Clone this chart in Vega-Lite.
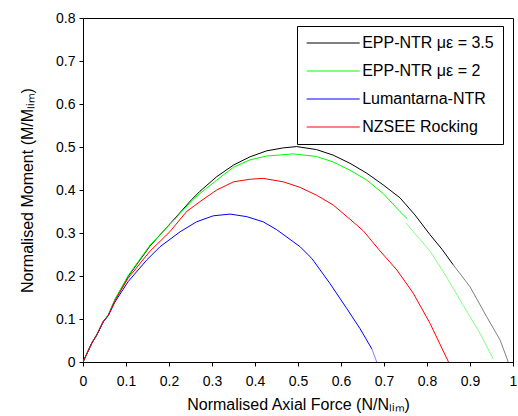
{
  "$schema": "https://vega.github.io/schema/vega-lite/v6.json",
  "width": 430,
  "height": 344,
  "autosize": {"type": "none"},
  "padding": {"left": 83, "top": 18, "right": 5, "bottom": 54},
  "background": "white",
  "config": {
    "font": "Liberation Sans",
    "view": {"stroke": "black", "strokeWidth": 1},
    "axis": {
      "grid": false,
      "domainColor": "black",
      "tickColor": "black",
      "tickSize": 4,
      "labelColor": "black",
      "labelFontSize": 14,
      "labelFont": "Liberation Sans",
      "labelFlush": false,
      "titleColor": "black",
      "titleFontSize": 16,
      "titleFont": "Liberation Sans",
      "titleFontWeight": "normal",
      "format": "~g"
    }
  },
  "datasets": {
    "main": [
      {"s": "EPP-NTR με = 3.5", "x": 0, "y": 0},
      {"s": "EPP-NTR με = 3.5", "x": 0.02, "y": 0.043},
      {"s": "EPP-NTR με = 3.5", "x": 0.032, "y": 0.063},
      {"s": "EPP-NTR με = 3.5", "x": 0.047, "y": 0.094},
      {"s": "EPP-NTR με = 3.5", "x": 0.059, "y": 0.109},
      {"s": "EPP-NTR με = 3.5", "x": 0.074, "y": 0.144},
      {"s": "EPP-NTR με = 3.5", "x": 0.105, "y": 0.199},
      {"s": "EPP-NTR με = 3.5", "x": 0.156, "y": 0.27},
      {"s": "EPP-NTR με = 3.5", "x": 0.202, "y": 0.321},
      {"s": "EPP-NTR με = 3.5", "x": 0.253, "y": 0.378},
      {"s": "EPP-NTR με = 3.5", "x": 0.272, "y": 0.397},
      {"s": "EPP-NTR με = 3.5", "x": 0.311, "y": 0.431},
      {"s": "EPP-NTR με = 3.5", "x": 0.35, "y": 0.458},
      {"s": "EPP-NTR με = 3.5", "x": 0.388, "y": 0.477},
      {"s": "EPP-NTR με = 3.5", "x": 0.427, "y": 0.491},
      {"s": "EPP-NTR με = 3.5", "x": 0.466, "y": 0.498},
      {"s": "EPP-NTR με = 3.5", "x": 0.497, "y": 0.501},
      {"s": "EPP-NTR με = 3.5", "x": 0.543, "y": 0.494},
      {"s": "EPP-NTR με = 3.5", "x": 0.582, "y": 0.481},
      {"s": "EPP-NTR με = 3.5", "x": 0.621, "y": 0.462},
      {"s": "EPP-NTR με = 3.5", "x": 0.66, "y": 0.439},
      {"s": "EPP-NTR με = 3.5", "x": 0.698, "y": 0.412},
      {"s": "EPP-NTR με = 3.5", "x": 0.737, "y": 0.382},
      {"s": "EPP-NTR με = 3.5", "x": 0.772, "y": 0.342},
      {"s": "EPP-NTR με = 3.5", "x": 0.807, "y": 0.296},
      {"s": "EPP-NTR με = 3.5", "x": 0.835, "y": 0.262},
      {"s": "EPP-NTR με = 3.5", "x": 0.861, "y": 0.226},
      {"s": "EPP-NTR με = 2", "x": 0, "y": 0},
      {"s": "EPP-NTR με = 2", "x": 0.02, "y": 0.043},
      {"s": "EPP-NTR με = 2", "x": 0.032, "y": 0.063},
      {"s": "EPP-NTR με = 2", "x": 0.047, "y": 0.094},
      {"s": "EPP-NTR με = 2", "x": 0.059, "y": 0.11},
      {"s": "EPP-NTR με = 2", "x": 0.074, "y": 0.145},
      {"s": "EPP-NTR με = 2", "x": 0.105, "y": 0.201},
      {"s": "EPP-NTR με = 2", "x": 0.156, "y": 0.272},
      {"s": "EPP-NTR με = 2", "x": 0.202, "y": 0.32},
      {"s": "EPP-NTR με = 2", "x": 0.253, "y": 0.375},
      {"s": "EPP-NTR με = 2", "x": 0.272, "y": 0.392},
      {"s": "EPP-NTR με = 2", "x": 0.311, "y": 0.423},
      {"s": "EPP-NTR με = 2", "x": 0.35, "y": 0.453},
      {"s": "EPP-NTR με = 2", "x": 0.388, "y": 0.47},
      {"s": "EPP-NTR με = 2", "x": 0.427, "y": 0.479},
      {"s": "EPP-NTR με = 2", "x": 0.489, "y": 0.484},
      {"s": "EPP-NTR με = 2", "x": 0.543, "y": 0.478},
      {"s": "EPP-NTR με = 2", "x": 0.582, "y": 0.465},
      {"s": "EPP-NTR με = 2", "x": 0.621, "y": 0.446},
      {"s": "EPP-NTR με = 2", "x": 0.66, "y": 0.423},
      {"s": "EPP-NTR με = 2", "x": 0.698, "y": 0.392},
      {"s": "EPP-NTR με = 2", "x": 0.737, "y": 0.35},
      {"s": "EPP-NTR με = 2", "x": 0.754, "y": 0.333},
      {"s": "Lumantarna-NTR", "x": 0, "y": 0},
      {"s": "Lumantarna-NTR", "x": 0.02, "y": 0.043},
      {"s": "Lumantarna-NTR", "x": 0.032, "y": 0.063},
      {"s": "Lumantarna-NTR", "x": 0.047, "y": 0.093},
      {"s": "Lumantarna-NTR", "x": 0.059, "y": 0.108},
      {"s": "Lumantarna-NTR", "x": 0.074, "y": 0.139},
      {"s": "Lumantarna-NTR", "x": 0.105, "y": 0.187},
      {"s": "Lumantarna-NTR", "x": 0.148, "y": 0.237},
      {"s": "Lumantarna-NTR", "x": 0.179, "y": 0.268},
      {"s": "Lumantarna-NTR", "x": 0.226, "y": 0.303},
      {"s": "Lumantarna-NTR", "x": 0.264, "y": 0.326},
      {"s": "Lumantarna-NTR", "x": 0.303, "y": 0.34},
      {"s": "Lumantarna-NTR", "x": 0.342, "y": 0.344},
      {"s": "Lumantarna-NTR", "x": 0.381, "y": 0.338},
      {"s": "Lumantarna-NTR", "x": 0.419, "y": 0.326},
      {"s": "Lumantarna-NTR", "x": 0.45, "y": 0.308},
      {"s": "Lumantarna-NTR", "x": 0.505, "y": 0.268},
      {"s": "Lumantarna-NTR", "x": 0.532, "y": 0.241},
      {"s": "Lumantarna-NTR", "x": 0.574, "y": 0.183},
      {"s": "Lumantarna-NTR", "x": 0.613, "y": 0.125},
      {"s": "Lumantarna-NTR", "x": 0.644, "y": 0.078},
      {"s": "Lumantarna-NTR", "x": 0.672, "y": 0.03},
      {"s": "NZSEE Rocking", "x": 0, "y": 0},
      {"s": "NZSEE Rocking", "x": 0.02, "y": 0.043},
      {"s": "NZSEE Rocking", "x": 0.032, "y": 0.063},
      {"s": "NZSEE Rocking", "x": 0.047, "y": 0.094},
      {"s": "NZSEE Rocking", "x": 0.059, "y": 0.109},
      {"s": "NZSEE Rocking", "x": 0.074, "y": 0.142},
      {"s": "NZSEE Rocking", "x": 0.105, "y": 0.195},
      {"s": "NZSEE Rocking", "x": 0.156, "y": 0.258},
      {"s": "NZSEE Rocking", "x": 0.202, "y": 0.303},
      {"s": "NZSEE Rocking", "x": 0.241, "y": 0.35},
      {"s": "NZSEE Rocking", "x": 0.272, "y": 0.373},
      {"s": "NZSEE Rocking", "x": 0.311, "y": 0.4},
      {"s": "NZSEE Rocking", "x": 0.35, "y": 0.419},
      {"s": "NZSEE Rocking", "x": 0.388, "y": 0.425},
      {"s": "NZSEE Rocking", "x": 0.419, "y": 0.427},
      {"s": "NZSEE Rocking", "x": 0.466, "y": 0.419},
      {"s": "NZSEE Rocking", "x": 0.505, "y": 0.406},
      {"s": "NZSEE Rocking", "x": 0.543, "y": 0.388},
      {"s": "NZSEE Rocking", "x": 0.582, "y": 0.365},
      {"s": "NZSEE Rocking", "x": 0.621, "y": 0.332},
      {"s": "NZSEE Rocking", "x": 0.652, "y": 0.305},
      {"s": "NZSEE Rocking", "x": 0.691, "y": 0.258},
      {"s": "NZSEE Rocking", "x": 0.73, "y": 0.214},
      {"s": "NZSEE Rocking", "x": 0.768, "y": 0.16},
      {"s": "NZSEE Rocking", "x": 0.807, "y": 0.09},
      {"s": "NZSEE Rocking", "x": 0.85, "y": 0}
    ],
    "tails": [
      {"t": "gray", "x": 0.861, "y": 0.226},
      {"t": "gray", "x": 0.9, "y": 0.175},
      {"t": "gray", "x": 0.939, "y": 0.105},
      {"t": "gray", "x": 0.97, "y": 0.051},
      {"t": "gray", "x": 0.989, "y": 0},
      {"t": "lightgreen", "x": 0.751, "y": 0.323},
      {"t": "lightgreen", "x": 0.807, "y": 0.258},
      {"t": "lightgreen", "x": 0.846, "y": 0.197},
      {"t": "lightgreen", "x": 0.884, "y": 0.132},
      {"t": "lightgreen", "x": 0.923, "y": 0.067},
      {"t": "lightgreen", "x": 0.954, "y": 0.007},
      {"t": "lightblue", "x": 0.672, "y": 0.03},
      {"t": "lightblue", "x": 0.683, "y": 0}
    ]
  },
  "layer": [
    {
      "data": {"name": "tails"},
      "mark": {"type": "line", "strokeWidth": 1, "clip": true},
      "encoding": {
        "x": {"field": "x", "type": "quantitative"},
        "y": {"field": "y", "type": "quantitative"},
        "color": {
          "field": "t",
          "type": "nominal",
          "scale": {"domain": ["gray", "lightgreen", "lightblue"], "range": ["#808080", "#80ff80", "#8080ff"]},
          "legend": null
        }
      }
    },
    {
      "data": {"name": "main"},
      "mark": {"type": "line", "strokeWidth": 1, "clip": true},
      "encoding": {
        "x": {
          "field": "x",
          "type": "quantitative",
          "scale": {"domain": [0, 1], "nice": false},
          "axis": {
            "values": [0, 0.1, 0.2, 0.3, 0.4, 0.5, 0.6, 0.7, 0.8, 0.9, 1],
            "labelPadding": 8,
            "titlePadding": 8,
            "title": "Normalised Axial Force (N/Nₗᵢₘ)"
          }
        },
        "y": {
          "field": "y",
          "type": "quantitative",
          "scale": {"domain": [0, 0.8], "nice": false},
          "axis": {
            "values": [0, 0.1, 0.2, 0.3, 0.4, 0.5, 0.6, 0.7, 0.8],
            "labelPadding": 4,
            "titlePadding": 20,
            "title": "Normalised Moment (M/Mₗᵢₘ)"
          }
        },
        "color": {
          "field": "s",
          "type": "nominal",
          "scale": {
            "domain": ["EPP-NTR με = 3.5", "EPP-NTR με = 2", "Lumantarna-NTR", "NZSEE Rocking"],
            "range": ["#000000", "#00ff00", "#0000ff", "#ff0000"]
          },
          "legend": {
            "orient": "none",
            "legendX": 214,
            "legendY": 8,
            "title": null,
            "strokeColor": "black",
            "fillColor": "white",
            "padding": 9,
            "symbolType": "M-5,0H5",
            "symbolSize": 112.36,
            "symbolOffset": 19.2,
            "symbolStrokeWidth": 1,
            "labelFontSize": 16,
            "labelColor": "black",
            "labelFont": "Liberation Sans",
            "labelOffset": 21,
            "labelExpr": "datum.label + '\u2003'",
            "rowPadding": 12,
            "labelLimit": 300
          }
        }
      }
    }
  ],
  "resolve": {"scale": {"color": "independent"}}
}
